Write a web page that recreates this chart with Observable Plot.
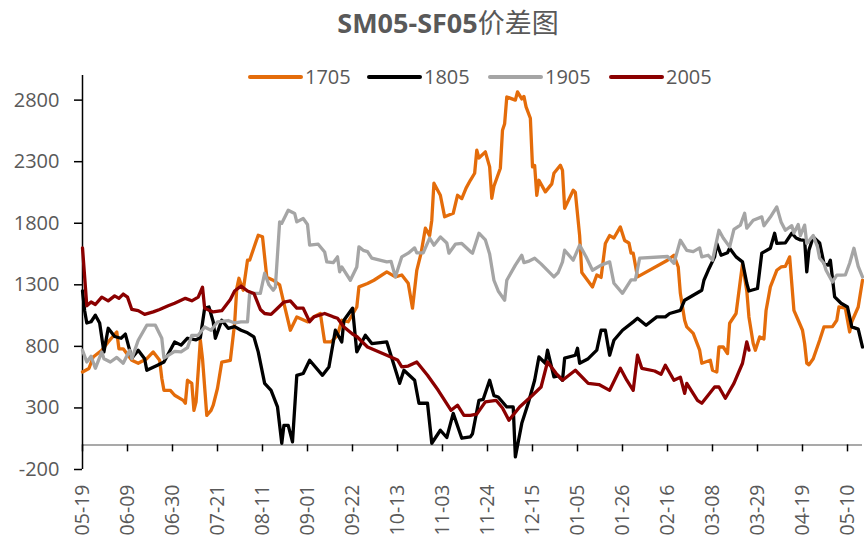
<!DOCTYPE html>
<html><head><meta charset="utf-8">
<script src="https://cdn.jsdelivr.net/npm/d3@7"></script>
<script src="https://cdn.jsdelivr.net/npm/@observablehq/plot@0.6"></script>
<style>
body{margin:0;background:#fff;}
#wrap{position:relative;width:864px;height:541px;font-family:"Open Sans","Noto Sans CJK SC",sans-serif;color:#595959;overflow:hidden;}
#chart{position:absolute;left:0;top:0;}
#title{position:absolute;left:0;width:896px;top:2px;text-align:center;font-size:27px;line-height:40px;white-space:nowrap;}
#title b{font-weight:700;}
#title span{font-family:"Noto Sans CJK SC",sans-serif;font-weight:400;}
.sw{position:absolute;height:4px;width:55px;top:75px;border-radius:2px;}
.lt{position:absolute;top:63px;font-size:20px;line-height:28px;}
</style></head>
<body>
<div id="wrap">
  <div id="chart"></div>
  <div id="title"><b>SM05-SF05</b><span>价差图</span></div>
  <div id="legend"></div>
</div>
<script>
const seriesNames = ["1705","1805","1905","2005"];
const seriesColors = ["#E46C0A","#000000","#A5A5A5","#8B0000"];
const xTickLabels = ["05-19","06-09","06-30","07-21","08-11","09-01","09-22","10-13","11-03","11-24","12-15","01-05","01-26","02-16","03-08","03-29","04-19","05-10"];
const xEndLabel = "05-17";
const yTicks = [-200,300,800,1300,1800,2300,2800];
const yDomain = [-200,3000];

const s1705 = [["05-19",592],["05-22",620],["05-24",714],["05-28",769],["05-31",836],["06-04",917],["06-05",780],["06-07",780],["06-11",687],["06-14",663],["06-18",700],["06-21",755],["06-24",687],["06-25",541],["06-26",443],["06-29",443],["07-01",403],["07-05",362],["07-06",338],["07-07",525],["07-09",500],["07-10",281],["07-11",350],["07-13",850],["07-14",700],["07-16",240],["07-18",280],["07-19",322],["07-21",460],["07-23",673],["07-27",687],["07-29",988],["07-30",1272],["07-31",1353],["08-02",1256],["08-04",1500],["08-05",1500],["08-09",1703],["08-11",1690],["08-13",1362],["08-16",1337],["08-19",1300],["08-21",1150],["08-24",931],["08-27",1039],["09-01",999],["09-04",1040],["09-07",1067],["09-09",836],["09-12",836],["09-15",890],["09-17",1012],["09-20",1000],["09-24",1120],["09-25",1283],["09-29",1310],["10-02",1337],["10-08",1405],["10-12",1364],["10-15",1380],["10-18",1313],["10-20",1110],["10-22",1418],["10-24",1557],["10-26",1760],["10-28",1700],["10-29",1825],["10-30",2125],["11-02",2027],["11-04",1852],["11-08",1881],["11-10",2027],["11-12",2000],["11-14",2085],["11-16",2149],["11-18",2206],["11-19",2393],["11-20",2330],["11-23",2380],["11-25",2258],["11-26",2003],["11-27",2100],["11-30",2247],["12-01",2556],["12-02",2609],["12-03",2826],["12-07",2800],["12-08",2867],["12-10",2810],["12-11",2830],["12-12",2745],["12-14",2653],["12-15",2258],["12-16",2270],["12-17",2027],["12-18",2149],["12-21",2055],["12-24",2120],["12-25",2206],["12-28",2271],["12-29",2230],["12-30",1922],["01-03",2068],["01-04",2050],["01-06",1700],["01-07",1400],["01-12",1283],["01-14",1380],["01-16",1360],["01-18",1636],["01-20",1700],["01-22",1680],["01-25",1770],["01-27",1660],["01-29",1640],["01-30",1557],["01-31",1557],["02-02",1364],["02-16",1500],["02-19",1540],["02-21",1445],["02-22",1231],["02-24",1012],["02-25",958],["02-28",906],["03-02",769],["03-03",663],["03-07",687],["03-08",606],["03-10",592],["03-11",795],["03-13",795],["03-15",742],["03-16",988],["03-19",1067],["03-21",1337],["03-22",1470],["03-24",1250],["03-25",1039],["03-27",823],["03-28",769],["03-30",877],["04-01",860],["04-02",1092],["04-04",1283],["04-07",1418],["04-09",1445],["04-11",1450],["04-13",1527],["04-15",1092],["04-17",1012],["04-19",931],["04-20",823],["04-21",663],["04-22",650],["04-24",700],["04-27",850],["04-29",958],["05-03",960],["05-05",1012],["05-06",1120],["05-09",1110],["05-11",917],["05-12",1000],["05-15",1120],["05-17",1337]];

const s1805 = [["05-19",1250],["05-20",1090],["05-21",990],["05-23",1000],["05-25",1053],["05-27",990],["05-29",755],["05-31",947],["06-03",880],["06-06",866],["06-08",900],["06-11",704],["06-14",769],["06-17",700],["06-18",606],["06-23",647],["06-26",673],["07-01",836],["07-04",810],["07-07",866],["07-11",853],["07-13",870],["07-15",1110],["07-17",1120],["07-19",1000],["07-20",866],["07-23",1012],["07-26",947],["07-29",960],["08-01",931],["08-04",910],["08-07",877],["08-09",755],["08-12",500],["08-15",443],["08-18",308],["08-20",13],["08-21",159],["08-23",159],["08-25",24],["08-27",565],["08-30",580],["09-02",687],["09-08",565],["09-11",633],["09-14",931],["09-17",836],["09-18",1012],["09-22",1110],["09-24",755],["09-28",890],["10-01",823],["10-08",836],["10-14",500],["10-16",606],["10-21",525],["10-23",338],["10-27",338],["10-29",13],["11-02",119],["11-05",60],["11-08",256],["11-12",54],["11-16",65],["11-17",90],["11-20",362],["11-22",370],["11-25",525],["11-27",400],["11-29",389],["12-03",308],["12-06",308],["12-07",-98],["12-10",175],["12-13",338],["12-16",525],["12-18",714],["12-21",663],["12-22",769],["12-25",552],["12-27",560],["12-29",525],["12-30",704],["01-04",728],["01-05",785],["01-06",663],["01-10",700],["01-14",769],["01-16",931],["01-18",931],["01-20",728],["01-22",850],["01-26",931],["01-31",999],["02-02",1028],["02-06",972],["02-11",1040],["02-15",1040],["02-17",1067],["02-22",1092],["02-24",1175],["02-28",1215],["03-03",1256],["03-04",1337],["03-06",1418],["03-09",1527],["03-10",1636],["03-12",1540],["03-15",1560],["03-16",1597],["03-19",1527],["03-22",1486],["03-24",1313],["03-25",1250],["03-29",1270],["03-31",1557],["04-04",1597],["04-06",1719],["04-07",1636],["04-11",1640],["04-14",1719],["04-16",1680],["04-18",1665],["04-20",1660],["04-21",1405],["04-22",1581],["04-24",1689],["04-27",1640],["04-29",1475],["05-01",1460],["05-02",1500],["05-04",1202],["05-07",1150],["05-10",1120],["05-12",958],["05-15",940],["05-17",795]];

const s1905 = [["05-19",769],["05-21",673],["05-23",720],["05-25",622],["05-28",755],["05-29",700],["06-01",673],["06-04",710],["06-07",663],["06-10",769],["06-11",700],["06-14",850],["06-18",972],["06-22",972],["06-25",866],["06-26",704],["07-01",760],["07-04",755],["07-07",790],["07-09",890],["07-12",890],["07-15",958],["07-18",930],["07-21",999],["07-26",1010],["07-29",990],["08-01",999],["08-04",999],["08-05",1231],["08-10",1231],["08-12",1394],["08-14",1300],["08-16",1256],["08-17",1280],["08-19",1811],["08-20",1800],["08-23",1906],["08-26",1880],["08-27",1811],["08-30",1838],["09-01",1790],["09-02",1622],["09-06",1630],["09-09",1567],["09-10",1486],["09-13",1480],["09-15",1527],["09-16",1405],["09-17",1445],["09-21",1337],["09-24",1445],["09-25",1608],["09-27",1580],["09-29",1570],["10-01",1516],["10-08",1486],["10-10",1490],["10-12",1364],["10-15",1527],["10-18",1557],["10-21",1600],["10-22",1560],["10-25",1560],["10-28",1679],["10-30",1622],["11-02",1689],["11-05",1640],["11-06",1557],["11-09",1630],["11-12",1636],["11-16",1570],["11-17",1557],["11-20",1719],["11-23",1665],["11-25",1550],["11-27",1337],["11-29",1250],["12-02",1175],["12-03",1337],["12-07",1460],["12-10",1540],["12-11",1480],["12-13",1490],["12-16",1516],["12-19",1470],["12-25",1364],["12-27",1400],["12-29",1486],["12-30",1581],["01-03",1500],["01-06",1622],["01-09",1528],["01-12",1418],["01-16",1460],["01-20",1486],["01-22",1313],["01-26",1231],["01-30",1340],["02-01",1340],["02-03",1516],["02-16",1530],["02-19",1475],["02-22",1662],["02-25",1580],["02-28",1570],["03-02",1600],["03-03",1527],["03-06",1540],["03-08",1500],["03-11",1743],["03-13",1680],["03-16",1608],["03-18",1750],["03-21",1785],["03-23",1881],["03-24",1760],["03-27",1825],["03-31",1852],["04-01",1780],["04-04",1850],["04-07",1933],["04-09",1811],["04-11",1743],["04-14",1780],["04-15",1720],["04-17",1790],["04-18",1700],["04-20",1785],["04-21",1636],["04-24",1700],["04-26",1608],["04-27",1516],["04-29",1475],["04-30",1418],["05-03",1323],["05-05",1378],["05-07",1378],["05-09",1380],["05-11",1475],["05-13",1597],["05-15",1450],["05-17",1364]];

const s2005 = [["05-19",1600],["05-21",1130],["05-23",1160],["05-25",1140],["05-28",1200],["05-31",1170],["06-03",1210],["06-05",1190],["06-07",1225],["06-09",1200],["06-11",1100],["06-14",1090],["06-17",1060],["06-21",1080],["06-24",1100],["06-28",1130],["07-01",1150],["07-06",1190],["07-09",1170],["07-12",1200],["07-14",1280],["07-15",1110],["07-19",1080],["07-23",1090],["07-27",1180],["07-29",1250],["08-01",1290],["08-04",1250],["08-07",1230],["08-10",1100],["08-12",1067],["08-15",1060],["08-18",1110],["08-21",1160],["08-24",1170],["08-27",1110],["08-30",1110],["09-02",1000],["09-04",1040],["09-09",1067],["09-13",1040],["09-15",1028],["09-18",958],["09-22",900],["09-24",880],["09-29",795],["10-08",728],["10-13",690],["10-15",633],["10-18",640],["10-22",673],["10-27",565],["11-01",443],["11-07",281],["11-10",322],["11-13",240],["11-16",240],["11-19",250],["11-23",349],["11-28",362],["12-01",300],["12-04",200],["12-09",308],["12-15",403],["12-19",470],["12-22",673],["12-26",581],["12-29",525],["01-04",606],["01-10",500],["01-15",490],["01-20",443],["01-25",622],["01-28",525],["01-31",443],["02-02",728],["02-04",622],["02-10",600],["02-13",573],["02-15",647],["02-19",525],["02-22",550],["02-24",419],["02-25",500],["03-01",362],["03-03",338],["03-09",470],["03-11",470],["03-14",379],["03-18",500],["03-22",663],["03-24",836],["03-25",769]];

const parse = s => {
  const [m, d] = s.split("-").map(Number);
  const y = (m > 5 || (m === 5 && d >= 19)) ? 2019 : 2020;
  return new Date(Date.UTC(y, m - 1, d));
};

const allSeries = [s1705, s1805, s1905, s2005];
const table = allSeries.flatMap((s, i) => s.map(([d, v]) => ({date: parse(d), value: v, series: seriesNames[i]})));
const xTicks = xTickLabels.map(parse);
const xStart = xTicks[0];
const xEnd = parse(xEndLabel);

const chart = Plot.plot({
  width: 864,
  height: 541,
  marginTop: 75,
  marginBottom: 72,
  marginLeft: 82,
  marginRight: 2,
  style: {fontFamily: "'Open Sans', sans-serif", fontSize: "20px", background: "transparent"},
  x: {type: "utc", domain: [xStart, xEnd]},
  y: {domain: yDomain},
  color: {domain: seriesNames, range: seriesColors},
  marks: [
    Plot.ruleY([0], {stroke: "#8c8c8c", strokeWidth: 1.5}),
    Plot.ruleX(xTicks, {x: d => d, y1: 0, y2: 0, insetBottom: -7, stroke: "#000", strokeWidth: 1.5}),
    Plot.ruleX([xStart], {stroke: "#000", strokeWidth: 1.5}),
    Plot.axisY({ticks: yTicks, tickSize: 8, tickPadding: 15, stroke: "#000", fill: "#595959", strokeWidth: 1.5, fontSize: 20, label: null, tickFormat: d => String(d)}),
    Plot.axisX({anchor: "bottom", ticks: xTicks, tickSize: 0, tickPadding: 15, tickRotate: -90, fill: "#595959", fontSize: 19.5, label: null, tickFormat: d3.utcFormat("%m-%d")}),
    Plot.line(table, {x: "date", y: "value", z: "series", stroke: "series", strokeWidth: 3.3, strokeLinejoin: "round", strokeLinecap: "round"})
  ]
});
document.getElementById("chart").appendChild(chart);

const legend = document.getElementById("legend");
const swLeft = [248, 367, 488, 609];
seriesNames.forEach((n, i) => {
  const sw = document.createElement("div");
  sw.className = "sw"; sw.style.left = swLeft[i] + "px"; sw.style.background = seriesColors[i];
  legend.appendChild(sw);
  const t = document.createElement("div");
  t.className = "lt"; t.style.left = (swLeft[i] + 57) + "px"; t.textContent = n;
  legend.appendChild(t);
});
</script>
</body></html>
